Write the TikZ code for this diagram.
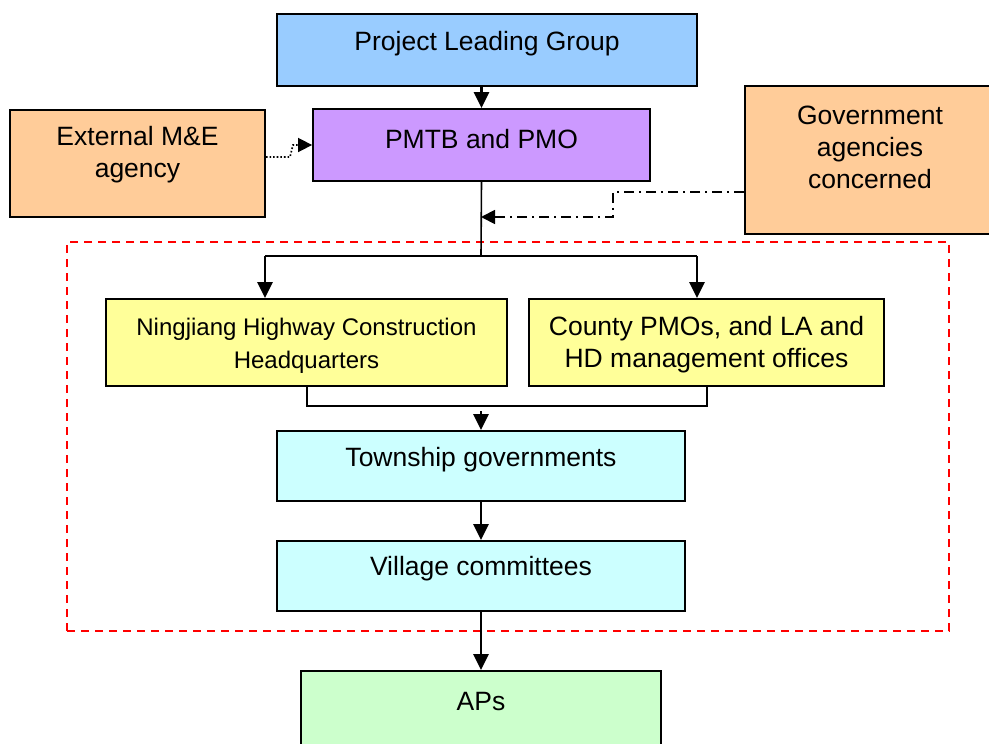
\documentclass[tikz,border=0pt]{standalone}
\usepackage{fontspec}
\setmainfont{Liberation Sans}
\usetikzlibrary{arrows.meta}
\definecolor{cblue}{HTML}{99CCFF}
\definecolor{cpurple}{HTML}{CC99FF}
\definecolor{cpeach}{HTML}{FFCC99}
\definecolor{cyellow}{HTML}{FFFF99}
\definecolor{ccyan}{HTML}{CCFFFF}
\definecolor{cgreen}{HTML}{CCFFCC}
\tikzset{
  box/.style={draw=black, line width=1.8pt, inner sep=0pt},
  lbl/.style={font=\fontsize{26.5}{32}\selectfont, align=center, inner sep=0pt},
  slbl/.style={font=\fontsize{24}{33}\selectfont, align=center, inner sep=0pt},
  arr/.style={line width=2.8pt, -{Triangle[length=16pt,width=15pt]}},
  ln/.style={line width=1.6pt},
}
\begin{document}
\begin{tikzpicture}[x=1pt,y=-1pt]
\useasboundingbox (0,0) rectangle (989,744);
\fill[white] (0,0) rectangle (989,744);
% boxes
\node[box, fill=cblue, minimum width=420pt, minimum height=72pt] (plg) at (487,50) {};
\node[lbl] (plgT) at (487,44) {Project Leading Group};
\node[box, fill=cpurple, minimum width=337pt, minimum height=72pt] (pmo) at (481.5,145) {};
\node[lbl] (pmoT) at (481.5,139) {PMTB and PMO};
\node[box, fill=cpeach, minimum width=255pt, minimum height=107pt] (ext) at (137.5,163.5) {};
\node[lbl] (extT) at (137.5,155) {External M\&E\\agency};
\node[box, fill=cpeach, minimum width=250pt, minimum height=148pt] (gov) at (870,160) {};
\node[lbl] (govT) at (870,147) {Government\\agencies\\concerned};
\node[draw=red, dashed, line width=1.4pt, dash pattern=on 8pt off 6pt, minimum width=882pt, minimum height=389pt, inner sep=0pt] (frame) at (508,436.5) {};
\node[box, fill=cyellow, minimum width=401pt, minimum height=87pt] (nj) at (306.5,342.5) {};
\node[slbl] (njT) at (306.5,346) {Ningjiang Highway Construction\\Headquarters};
\node[box, fill=cyellow, minimum width=355pt, minimum height=87pt] (cty) at (706.5,342.5) {};
\node[lbl] (ctyT) at (706.5,345) {County PMOs, and LA and\\HD management offices};
\node[box, fill=ccyan, minimum width=408pt, minimum height=70pt] (tw) at (481,466) {};
\node[lbl] (twT) at (481,460) {Township governments};
\node[box, fill=ccyan, minimum width=408pt, minimum height=70pt] (vc) at (481,576) {};
\node[lbl] (vcT) at (481,569) {Village committees};
\node[box, fill=cgreen, minimum width=360pt, minimum height=100pt] (ap) at (481,721) {};
\node[lbl] (apT) at (481,702) {APs};
% connectors
\draw[arr] (plg.south -| pmo.north) -- (pmo.north);
\coordinate (split) at (481,256);
\coordinate (sl) at (265,256);
\coordinate (sr) at (697,256);
\draw[ln] (pmo.south) -- (split);
\draw[ln] (sl) -- (sr);
\draw[arr] (sl) -- (sl |- nj.north);
\draw[arr] (sr) -- (sr |- cty.north);
\coordinate (g1) at (613,192);
\coordinate (g2) at (613,217);
\coordinate (g3) at (481,217);
\draw[line width=1.8pt, dash pattern=on 10pt off 5pt on 2pt off 5pt, -{Triangle[length=14pt,width=14pt]}]
  (gov.west |- g1) -- (g1) -- (g2) -- (g3);
\coordinate (e1) at (290,157);
\coordinate (e2) at (293,145);
\draw[line width=1.6pt, dotted, -{Triangle[length=14pt,width=14pt]}]
  (ext.east |- e1) -- (e1) -- (e2) -- (pmo.west |- e2);
\coordinate (m1) at (307,406);
\coordinate (m2) at (707,406);
\draw[ln] (nj.south -| m1) -- (m1) -- (m2) -- (cty.south -| m2);
\coordinate (m3) at (481,411);
\draw[arr] (m3) -- (tw.north);
\draw[arr] (tw.south) -- (vc.north);
\draw[arr] (vc.south) -- (ap.north);
\end{tikzpicture}
\end{document}
